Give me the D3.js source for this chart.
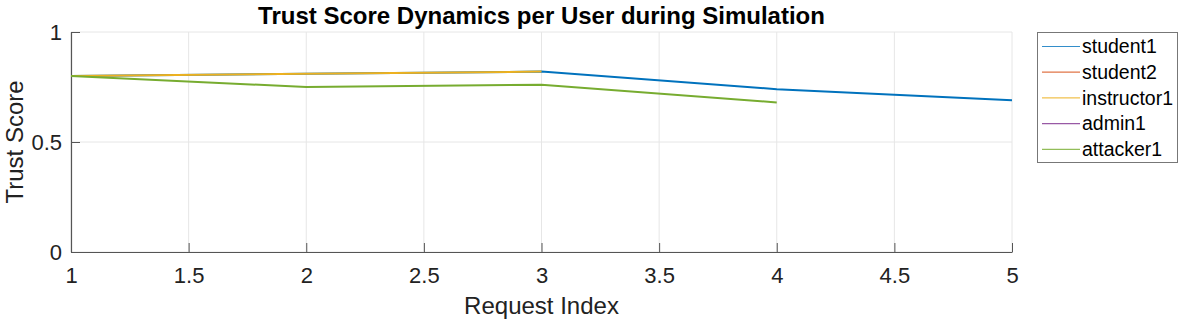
<!DOCTYPE html>
<html><head><meta charset="utf-8">
<script src="https://cdn.jsdelivr.net/npm/d3@7"></script>
<style>body{margin:0;background:#fff;} svg{display:block;font-family:"Liberation Sans",Arial,sans-serif;}</style>
</head><body>
<svg id="c" width="1183" height="323"></svg>
<script>
const seriesNames = ["student1","student2","instructor1","admin1","attacker1"];
const seriesColors = ["#0072BD","#D95319","#EDB120","#7E2F8E","#77AC30"];
const student1 = [0.80,0.81,0.82,0.74,0.69];
const student2 = [0.80];
const instructor1 = [0.80,0.81,0.82];
const admin1 = [0.80];
const attacker1 = [0.80,0.75,0.76,0.68];
const xTicks = [1,1.5,2,2.5,3,3.5,4,4.5,5];
const yTicks = [0,0.5,1];
const allSeries = [student1,student2,instructor1,admin1,attacker1];

const svg = d3.select("#c");
const L=71,R=1012,T=32,B=252;
const x = d3.scaleLinear().domain([1,5]).range([L,R]);
const y = d3.scaleLinear().domain([0,1]).range([B,T]);

// grid
svg.append("g").selectAll("line").data(xTicks).join("line")
  .attr("x1",d=>x(d)).attr("x2",d=>x(d)).attr("y1",T).attr("y2",B)
  .attr("stroke","#e6e6e6").attr("stroke-width",1);
svg.append("g").selectAll("line").data(yTicks).join("line")
  .attr("x1",L).attr("x2",R).attr("y1",d=>y(d)).attr("y2",d=>y(d))
  .attr("stroke","#e6e6e6").attr("stroke-width",1);

// axes
const xAxis = svg.append("g").attr("transform",`translate(0,${B})`)
  .call(d3.axisBottom(x).tickValues(xTicks).tickSize(-9).tickPadding(15).tickFormat(d3.format("")).tickSizeOuter(0));
const yAxis = svg.append("g").attr("transform",`translate(${L},0)`)
  .call(d3.axisLeft(y).tickValues(yTicks).tickSize(-9).tickPadding(9).tickFormat(d3.format("")).tickSizeOuter(0));
[xAxis,yAxis].forEach(a=>{
  a.select(".domain").attr("stroke","#555").attr("stroke-width",1.2);
  a.selectAll(".tick line").attr("stroke","#555").attr("stroke-width",1);
  a.selectAll(".tick text").attr("fill","#222").style("font-size","22px").style("font-family","Liberation Sans, Arial, sans-serif");
});
xAxis.selectAll(".tick text").attr("dy","0.71em");

// lines
const line = d3.line().x((d,i)=>x(i+1)).y(d=>y(d));
allSeries.forEach((s,i)=>{
  svg.append("path").datum(s).attr("d",line).attr("fill","none")
    .attr("stroke",seriesColors[i]).attr("stroke-width",2);
});

// title & labels
svg.append("text").attr("x",(L+R)/2).attr("y",24).attr("text-anchor","middle")
  .style("font-size","24px").style("font-weight","bold").attr("fill","#000")
  .text("Trust Score Dynamics per User during Simulation");
svg.append("text").attr("x",(L+R)/2).attr("y",314).attr("text-anchor","middle")
  .style("font-size","24px").attr("fill","#222").text("Request Index");
svg.append("text").attr("transform",`translate(23,${(T+B)/2}) rotate(-90)`).attr("text-anchor","middle")
  .style("font-size","24px").attr("fill","#222").text("Trust Score");

// legend
const lg = svg.append("g");
lg.append("rect").attr("x",1037.5).attr("y",32.5).attr("width",140).attr("height",130)
  .attr("fill","#fff").attr("stroke","#777").attr("stroke-width",1);
seriesNames.forEach((n,i)=>{
  const yy = 46.5 + i*25.7;
  lg.append("line").attr("x1",1042).attr("x2",1080).attr("y1",yy).attr("y2",yy)
    .attr("stroke",seriesColors[i]).attr("stroke-width",1.2).attr("stroke-opacity",0.8);
  lg.append("text").attr("x",1082).attr("y",yy).attr("dy","0.35em")
    .style("font-size","19.5px").attr("fill","#000").text(n);
});
</script>
</body></html>
